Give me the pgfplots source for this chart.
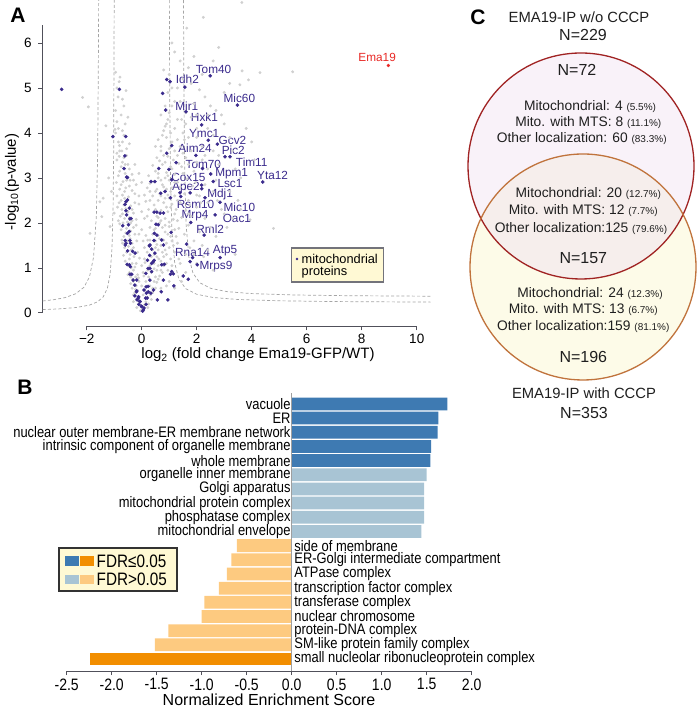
\documentclass[border=0pt]{standalone}
\usepackage{pgfplots}
\pgfplotsset{compat=1.18}
\usepackage{fontspec}
\setmainfont{Liberation Sans}
\newfontfamily\narrow[FakeStretch=0.85]{Liberation Sans}
\newcommand\fs[1]{\fontsize{#1}{#1}\selectfont}

\definecolor{mito}{RGB}{58,42,140}
\definecolor{greypt}{RGB}{208,208,208}
\definecolor{axgray}{RGB}{80,80,90}
\definecolor{dashgray}{RGB}{165,165,165}
\definecolor{emared}{RGB}{232,40,36}
\definecolor{fdrblue}{RGB}{62,122,178}
\definecolor{ltblue}{RGB}{168,196,212}
\definecolor{ltorange}{RGB}{253,202,128}
\definecolor{fdrorange}{RGB}{242,142,0}
\definecolor{legyellow}{RGB}{255,249,212}
\definecolor{vennred}{RGB}{160,35,35}
\definecolor{vennbrown}{RGB}{192,115,60}
\definecolor{vennlav}{RGB}{249,242,249}
\definecolor{venncream}{RGB}{253,251,232}
\definecolor{venninter}{RGB}{246,238,236}

\begin{document}
\begin{tikzpicture}
\useasboundingbox (0pt,0pt) rectangle (700pt,711pt);

% ---------------- A: volcano plot ----------------
\begin{axis}[
  at={(42.7pt,385pt)}, anchor=south west, scale only axis,
  width=387.8pt, height=325.75pt,
  xmin=-3.6, xmax=10.5, ymin=-0.29, ymax=6.95,
  axis line style={draw=none},
  xtick={-2,0,2,4,6,8,10}, xticklabels={−2,0,2,4,6,8,10},
  ytick={0,1,2,3,4,5,6}, yticklabels={0,1,2,3,4,5,6},
  xtick pos=lower, ytick pos=left,
  tick align=outside, major tick length=4.5pt,
  tick style={axgray, line width=0.9pt},
  ticklabel style={font=\fs{13.5}},
  yticklabel style={xshift=-3pt},
  clip=false,
]
\draw[axgray, line width=0.9pt] (axis cs:-2,-0.29) -- (axis cs:10,-0.29);
\draw[axgray, line width=0.9pt] (axis cs:-3.6,0) -- (axis cs:-3.6,6.4);

% threshold curves
\addplot[dashgray, line width=0.7pt, dash pattern=on 3pt off 2.2pt] coordinates {
 (-3.6,0.266) (-3.2,0.294) (-2.8,0.339) (-2.4,0.426) (-2.1,0.571) (-1.9,0.799)
 (-1.75,1.241) (-1.65,2.15) (-1.6,3.579) (-1.57,6.15) (-1.5653,6.95)};
\addplot[dashgray, line width=0.7pt, dash pattern=on 3pt off 2.2pt] coordinates {
 (-3.6,0.074) (-3.0,0.090) (-2.4,0.12) (-1.9,0.174) (-1.6,0.249) (-1.4,0.358)
 (-1.25,0.546) (-1.15,0.855) (-1.08,1.44) (-1.04,2.387) (-1.02,3.57) (-1.0005,6.95)};
\addplot[dashgray, line width=0.7pt, dash pattern=on 3pt off 2.2pt] coordinates {
 (1.005,6.95) (1.02,4.66) (1.05,2.887) (1.1,1.82) (1.2,1.109) (1.35,0.753)
 (1.6,0.54) (2.0,0.415) (2.6,0.343) (3.5,0.299) (5,0.27) (7,0.253) (10.5,0.241)};
\addplot[dashgray, line width=0.7pt, dash pattern=on 3pt off 2.2pt] coordinates {
 (1.5203,6.95) (1.535,4.794) (1.565,3.017) (1.615,1.95) (1.715,1.239) (1.865,0.883)
 (2.115,0.67) (2.515,0.545) (3.1,0.474) (4.0,0.43) (5.5,0.40) (7.5,0.383) (10.5,0.372)};

% all other proteins
\addplot[only marks, mark=*, mark size=1.25pt, color=greypt] table {
x y
-0.05 0.05
0.05 0.08
0.0 0.15
-0.12 0.2
0.1 0.18
0.15 0.25
-0.2 0.3
0.2 0.35
-0.08 0.35
0.05 0.4
-0.25 0.45
0.28 0.45
0.12 0.5
-0.15 0.5
0.35 0.3
-0.3 0.25
0.22 0.12
-0.18 0.12
-0.35 0.55
-0.2 0.6
0.0 0.6
0.3 0.6
0.4 0.55
-0.3 0.7
-0.1 0.7
0.15 0.7
0.45 0.7
-0.4 0.8
-0.22 0.8
0.25 0.8
0.5 0.8
0.6 0.75
-0.45 0.9
-0.3 0.95
0.05 0.9
0.35 0.9
0.55 0.95
0.75 0.9
-0.15 0.85
0.9 0.6
1.0 0.7
1.2 0.55
0.7 0.55
-0.5 1.05
-0.35 1.1
-0.2 1.1
0.0 1.05
0.3 1.05
0.45 1.1
0.6 1.05
0.7 1.15
0.9 1.1
-0.45 1.2
-0.28 1.25
0.1 1.2
0.35 1.25
0.55 1.25
0.8 1.25
1.05 1.2
-0.55 1.35
-0.38 1.4
-0.15 1.35
0.2 1.35
0.4 1.4
0.6 1.4
0.85 1.4
1.2 1.35
1.4 1.1
1.6 1.3
-0.62 1.45
0.25 1.5
0.7 1.5
1.0 1.45
-0.7 1.55
-0.5 1.6
-0.35 1.55
-0.18 1.6
0.05 1.6
0.3 1.62
0.5 1.6
0.8 1.62
1.1 1.6
1.3 1.55
-0.65 1.7
-0.45 1.72
-0.25 1.75
0.15 1.72
0.4 1.75
0.6 1.72
0.95 1.75
1.25 1.7
1.55 1.75
1.9 1.6
-0.75 1.85
-0.55 1.88
-0.3 1.9
0.0 1.85
0.3 1.9
0.5 1.88
0.75 1.9
1.0 1.92
1.35 1.88
1.7 1.95
2.1 1.8
2.5 1.9
-0.8 1.98
-0.4 2.0
0.65 2.0
-0.85 2.05
-0.62 2.1
-0.45 2.12
-0.2 2.08
0.1 2.1
0.35 2.05
0.6 2.12
0.85 2.1
1.15 2.08
1.45 2.12
1.8 2.15
2.3 2.1
-0.7 2.2
-0.5 2.25
-0.3 2.22
0.0 2.25
0.25 2.3
0.7 2.28
0.95 2.25
1.25 2.3
1.6 2.28
2.0 2.35
2.9 2.3
-0.88 2.35
-0.65 2.4
-0.4 2.38
-0.1 2.42
0.45 2.4
0.8 2.45
1.1 2.42
1.4 2.45
1.75 2.4
2.4 2.45
3.3 2.1
-0.75 2.5
0.3 2.5
1.0 2.55
-0.9 2.6
-0.7 2.62
-0.48 2.58
-0.25 2.65
0.1 2.62
0.4 2.6
0.65 2.65
0.95 2.62
1.2 2.6
1.55 2.65
2.0 2.62
2.6 2.7
-0.8 2.75
-0.58 2.78
-0.35 2.72
0.2 2.78
0.55 2.75
0.8 2.8
1.1 2.78
1.4 2.8
1.85 2.82
2.3 2.85
-0.92 2.9
-0.68 2.92
-0.42 2.95
0.0 2.9
0.45 2.92
0.7 2.95
1.0 2.95
1.3 2.9
1.65 2.98
2.7 2.95
3.2 2.7
3.5 2.5
-0.85 3.05
-0.6 3.1
-0.35 3.08
0.25 3.05
0.6 3.1
0.9 3.12
1.2 3.08
1.5 3.1
1.9 3.15
2.5 3.1
-0.75 3.25
-0.5 3.3
0.4 3.28
0.75 3.3
1.05 3.25
1.35 3.32
1.7 3.3
2.0 3.35
2.8 3.3
3.4 3.2
-0.9 3.4
-0.65 3.45
0.55 3.45
0.95 3.48
1.3 3.5
1.6 3.45
2.3 3.5
3.6 3.0
4.1 3.4
-0.8 3.6
-0.55 3.65
0.7 3.6
1.0 3.65
1.4 3.7
1.8 3.6
2.2 3.7
-0.85 3.8
0.6 3.85
0.9 3.9
1.3 3.85
1.7 3.9
2.6 3.95
3.2 3.9
-0.95 4.0
-0.7 4.05
0.8 4.05
1.2 4.1
1.5 4.0
2.0 4.1
3.0 4.2
-0.9 4.25
0.95 4.3
1.45 4.3
1.8 4.35
2.4 4.4
3.8 4.1
-1.3 4.16
-0.97 4.08
-0.45 3.76
-0.81 3.72
-0.86 4.8
-0.57 4.94
-0.79 5.24
-0.82 5.14
1.1 4.6
1.4 4.7
1.9 4.65
2.3 4.8
2.7 4.5
3.0 4.9
1.3 5.0
2.1 4.96
3.57 5.07
3.88 5.18
4.3 5.34
3.65 5.38
5.49 5.36
-2.15 4.79
-1.94 4.58
1.0 5.3
1.7 5.45
2.6 5.6
1.64 6.33
2.24 6.57
3.64 6.9
1.2 5.8
-0.3 0.4
-0.22 0.52
-0.4 0.65
-0.33 0.75
-0.5 0.85
-0.38 1.0
-0.6 1.15
-0.42 1.3
-0.66 1.28
-0.48 1.48
-0.72 1.62
-0.58 1.78
-0.4 1.82
-0.68 2.0
-0.52 2.02
-0.78 2.15
-0.58 2.32
-0.35 2.3
-0.82 2.45
-0.55 2.48
-0.62 2.7
-0.45 2.82
-0.75 2.85
-0.55 2.95
-0.8 3.15
-0.7 3.35
-0.55 3.5
-0.9 3.55
-0.7 3.8
-0.6 4.2
-0.75 4.4
-0.65 4.6
-0.2 1.95
-0.1 2.6
-0.2 2.85
-0.25 3.3
-0.1 3.1
0.25 0.2
0.32 0.4
0.4 0.45
0.5 0.55
0.55 0.68
0.65 0.82
0.7 0.95
0.45 0.98
0.8 1.05
0.95 0.95
0.62 1.2
1.1 1.05
0.9 1.3
0.5 1.45
0.75 1.35
1.15 1.5
0.65 1.65
0.9 1.55
1.05 1.7
0.85 1.8
1.2 1.85
0.7 2.05
1.0 2.02
1.3 2.05
0.55 2.15
0.9 2.35
1.2 2.2
0.6 2.5
0.85 2.55
1.3 2.5
0.5 2.7
1.05 2.7
0.75 2.85
1.2 2.9
0.6 3.0
0.95 3.05
0.85 3.35
1.15 3.4
0.7 3.7
1.1 3.8
0.85 4.15
1.0 4.45
1.2 4.7
0.95 4.9
1.6 0.9
2.0 1.1
2.4 1.4
2.7 1.7
3.1 1.9
2.2 1.5
1.9 1.3
3.6 2.3
3.94 2.07
4.79 1.88
3.3 3.6
2.9 4.4
2.5 4.6
4.0 3.8
2.1 2.6
2.4 3.2
2.0 3.9
1.6 4.2
1.8 5.1
2.2 5.3
1.4 5.6
1.1 6.0
-1.88 1.77
-1.45 2.14
-1.15 1.92
-1.0 2.22
-1.4 2.55
-1.52 2.47
-1.2 3.0
-1.1 2.7
-0.28 0.62
-0.12 0.78
0.08 0.82
0.22 0.95
-0.25 1.02
0.12 1.12
-0.08 1.22
0.45 1.3
-0.3 1.45
0.1 1.45
0.55 1.52
-0.42 1.65
0.22 1.62
-0.1 1.75
0.45 1.85
0.85 1.95
-0.35 2.05
0.2 2.15
0.5 2.3
1.05 2.35
-0.72 2.3
-0.25 2.45
0.15 2.48
0.7 2.6
-0.62 2.55
0.3 2.7
0.9 2.75
-0.3 2.95
0.3 2.88
0.85 3.0
-0.45 3.2
0.5 3.15
1.1 3.2
-0.6 3.3
0.65 3.38
1.45 3.25
-0.82 3.48
0.8 3.5
1.2 3.6
-0.72 3.6
0.5 3.7
1.5 3.55
-0.65 3.95
0.75 3.95
1.05 4.0
-0.85 4.1
0.9 4.2
1.3 4.3
-0.5 4.35
0.7 4.4
1.6 4.45
-0.95 4.5
0.85 4.6
-0.7 4.75
1.1 5.0
-0.9 5.0
1.5 5.2
0.8 5.4
-0.95 5.35
1.9 5.7
2.8 5.9
3.2 5.1
1.7 2.5
1.95 2.9
2.2 3.4
2.6 3.6
1.55 3.85
2.0 4.4
2.4 4.1
2.8 3.5
3.0 2.2
2.75 2.5
1.35 1.2
1.75 1.45
2.25 1.25
1.45 0.7
2.6 0.95
3.4 1.3
1.7 2.2
2.15 2.45
};

% mitochondrial proteins
\addplot[only marks, mark=*, mark size=1.6pt, color=mito] table {
x y
2.49 5.27
1.57 5.02
3.48 4.62
1.61 4.47
2.18 4.18
2.42 3.84
2.75 3.75
1.97 3.50
3.03 3.47
3.21 3.47
2.21 3.21
2.51 3.09
4.40 2.91
2.18 2.84
2.60 2.92
1.76 2.67
2.30 2.56
1.42 2.59
2.85 2.46
1.78 2.01
2.67 2.18
2.27 1.73
1.63 1.53
2.85 1.23
2.02 1.07
1.85 1.23
1.76 1.14
1.51 0.82
1.69 0.75
1.17 0.60
0.91 5.19
1.03 5.14
0.76 4.88
0.87 4.51
1.09 3.72
0.91 3.55
1.25 3.34
0.99 3.19
0.62 3.21
0.34 2.92
1.09 2.96
0.85 2.70
0.69 2.66
1.05 2.56
1.39 2.67
0.45 2.24
0.55 2.24
0.79 2.22
1.07 1.79
0.52 1.97
0.46 1.77
0.45 1.61
0.73 1.62
0.79 1.51
0.28 1.49
0.36 1.42
0.82 1.08
1.09 0.92
1.15 0.87
1.05 0.86
0.71 0.47
0.57 0.29
0.95 0.29
2.18 2.76
0.67 2.22
0.79 0.73
0.73 1.07
0.48 2.92
0.55 1.73
0.60 1.96
0.30 1.51
0.48 1.33
0.42 1.14
0.36 0.92
0.30 0.99
0.30 0.73
0.24 0.47
0.16 0.58
0.20 0.33
0.16 0.19
0.06 0.07
0.03 0.04
0.08 0.11
0.14 0.33
0.17 0.44
0.23 0.59
0.15 0.88
0.23 0.99
0.36 1.10
0.21 1.17
0.45 1.17
0.29 1.28
0.08 0.51
0.33 0.44
0.43 0.51
-2.91 4.97
-0.81 4.97
-1.05 3.92
-0.58 3.92
-0.61 3.49
-0.64 3.21
-0.52 3.01
-0.57 2.47
-0.61 2.41
-0.57 2.27
-0.43 2.09
-0.69 1.94
-0.52 1.77
-0.60 1.61
-0.43 1.61
-0.60 1.51
-0.51 1.38
-0.33 1.37
-0.53 1.08
-0.41 1.03
-0.43 0.86
-0.31 0.73
-0.25 0.62
-0.19 0.47
-0.25 0.38
-0.13 0.33
-0.07 0.26
-0.01 0.15
-0.10 0.19
-0.17 0.29
-0.52 2.51
-0.45 2.33
-0.55 2.18
-0.39 2.10
-0.48 1.96
-0.45 1.81
-0.57 1.55
-0.41 1.55
-0.24 1.33
-0.45 1.07
-0.36 0.86
-0.18 0.73
-0.18 0.49
-0.12 0.36
-0.06 0.25
0.00 0.14
-0.55 3.02
};

% bait
\addplot[only marks, mark=*, mark size=1.5pt, color=emared] coordinates {(8.97,5.50)};

\begin{scope}[every node/.style={font=\fs{11.8}, text=mito, inner sep=0pt}]
\node at (axis cs:2.61,5.41) {Tom40};
\node at (axis cs:1.66,5.19) {Idh2};
\node at (axis cs:3.55,4.77) {Mic60};
\node at (axis cs:1.64,4.60) {Mir1};
\node at (axis cs:2.28,4.35) {Hxk1};
\node at (axis cs:2.27,3.99) {Ymc1};
\node at (axis cs:3.30,3.84) {Gcv2};
\node at (axis cs:1.94,3.66) {Aim24};
\node at (axis cs:3.33,3.61) {Pic2};
\node at (axis cs:4.00,3.36) {Tim11};
\node at (axis cs:2.24,3.31) {Tom70};
\node at (axis cs:3.27,3.10) {Mpm1};
\node at (axis cs:4.76,3.05) {Yta12};
\node at (axis cs:1.70,3.01) {Cox15};
\node at (axis cs:3.21,2.88) {Lsc1};
\node at (axis cs:1.61,2.79) {Ape2};
\node at (axis cs:2.85,2.64) {Mdj1};
\node at (axis cs:1.96,2.42) {Rsm10};
\node at (axis cs:3.55,2.35) {Mic10};
\node at (axis cs:1.94,2.16) {Mrp4};
\node at (axis cs:3.46,2.11) {Oac1};
\node at (axis cs:2.49,1.86) {Rml2};
\node at (axis cs:1.85,1.35) {Rna14};
\node at (axis cs:3.03,1.39) {Atp5};
\node at (axis cs:2.70,1.03) {Mrps9};
\node[text=emared] at (axis cs:8.56,5.67) {Ema19};
\end{scope}
\end{axis}

% A labels and legend
\node[font=\bfseries\fs{21}] at (18pt,696pt) {A};
\node[font=\fs{15}] at (258pt,356pt) {log\textsubscript{2} (fold change Ema19-GFP/WT)};
\node[font=\fs{15}, rotate=90] at (12pt,529pt) {-log\textsubscript{10}(p-value)};
\draw[fill=legyellow, draw=axgray!80, line width=1.3pt] (291.7pt,463pt) rectangle (383.3pt,429pt);
\fill[mito] (297pt,452pt) circle (1.4pt);
\node[font=\fs{12.8}, anchor=west, inner sep=0pt] at (301.5pt,452pt) {mitochondrial};
\node[font=\fs{12.8}, anchor=west, inner sep=0pt] at (301.5pt,439pt) {proteins};

% ---------------- B: enrichment bars ----------------
\begin{axis}[
  at={(66.7pt,40pt)}, anchor=south west, scale only axis,
  width=405pt, height=278pt,
  xmin=-2.5, xmax=2, ymin=-0.847, ymax=18.77,
  axis x line*=bottom, axis y line=none,
  x axis line style={axgray, line width=0.9pt},
  xtick={-2.5,-2,-1.5,-1,-0.5,0,0.5,1,1.5,2},
  xticklabels={-2.5,-2.0,-1.5,-1.0,-0.5,0.0,0.5,1.0,1.5,2.0},
  ytick=\empty,
  tick align=outside, major tick length=4pt,
  xtick style={axgray, line width=0.9pt},
  xticklabel style={font=\narrow\fs{16.5}},
  clip=false,
]
\addplot[xbar, bar shift=0pt, bar width=0.9, fill=fdrblue, draw=none] coordinates {
 (1.73,18) (1.63,17) (1.62,16) (1.55,15) (1.54,14)};
\addplot[xbar, bar shift=0pt, bar width=0.9, fill=ltblue, draw=none] coordinates {
 (1.50,13) (1.47,12) (1.47,11) (1.47,10) (1.44,9)};
\addplot[xbar, bar shift=0pt, bar width=0.9, fill=ltorange, draw=none] coordinates {
 (-0.61,8) (-0.67,7) (-0.72,6) (-0.81,5) (-0.97,4) (-1.00,3) (-1.37,2) (-1.52,1)};
\addplot[xbar, bar shift=0pt, bar width=0.9, fill=fdrorange, draw=none] coordinates {
 (-2.24,0)};
\draw[gray!75, line width=0.9pt] (axis cs:0,-0.847) -- (axis cs:0,18.77);
\begin{scope}[every node/.style={font=\narrow\fs{15.2}, inner sep=0pt}]
\node[anchor=east] at ([xshift=-1pt]axis cs:0,18) {vacuole};
\node[anchor=east] at ([xshift=-1pt]axis cs:0,17) {ER};
\node[anchor=east] at ([xshift=-1pt]axis cs:0,16) {nuclear outer membrane-ER membrane network};
\node[anchor=east] at ([xshift=-1pt]axis cs:0,15) {intrinsic component of organelle membrane};
\node[anchor=east] at ([xshift=-1pt]axis cs:0,14) {whole membrane};
\node[anchor=east] at ([xshift=-1pt]axis cs:0,13) {organelle inner membrane};
\node[anchor=east] at ([xshift=-1pt]axis cs:0,12) {Golgi apparatus};
\node[anchor=east] at ([xshift=-1pt]axis cs:0,11) {mitochondrial protein complex};
\node[anchor=east] at ([xshift=-1pt]axis cs:0,10) {phosphatase complex};
\node[anchor=east] at ([xshift=-1pt]axis cs:0,9) {mitochondrial envelope};
\node[anchor=west] at ([xshift=2.5pt]axis cs:0,8) {side of membrane};
\node[anchor=west] at ([xshift=2.5pt]axis cs:0,7) {ER-Golgi intermediate compartment};
\node[anchor=west] at ([xshift=2.5pt]axis cs:0,6) {ATPase complex};
\node[anchor=west] at ([xshift=2.5pt]axis cs:0,5) {transcription factor complex};
\node[anchor=west] at ([xshift=2.5pt]axis cs:0,4) {transferase complex};
\node[anchor=west] at ([xshift=2.5pt]axis cs:0,3) {nuclear chromosome};
\node[anchor=west] at ([xshift=2.5pt]axis cs:0,2) {protein-DNA complex};
\node[anchor=west] at ([xshift=2.5pt]axis cs:0,1) {SM-like protein family complex};
\node[anchor=west] at ([xshift=2.5pt]axis cs:0,0) {small nucleolar ribonucleoprotein complex};
\end{scope}
\end{axis}

\node[font=\bfseries\fs{21}] at (25pt,324pt) {B};
\node[font=\fs{16}] at (269pt,11pt) {Normalized Enrichment Score};
\draw[fill=legyellow, draw=black!80, line width=1.2pt] (59pt,163pt) rectangle (177pt,120pt);
\fill[fdrblue] (65pt,145pt) rectangle (79pt,154.5pt);
\fill[fdrorange] (80pt,145pt) rectangle (94pt,154.5pt);
\fill[ltblue] (65pt,126.5pt) rectangle (79pt,136.4pt);
\fill[ltorange] (80pt,126.5pt) rectangle (94pt,136.4pt);
\node[font=\narrow\fs{18}, anchor=west, inner sep=0pt] at (96.5pt,150pt) {FDR≤0.05};
\node[font=\narrow\fs{18}, anchor=west, inner sep=0pt] at (96.5pt,131.5pt) {FDR>0.05};

% ---------------- C: Venn diagram ----------------
\fill[vennlav] (581pt,545pt) circle (113pt);
\fill[venncream] (583pt,444pt) circle (113pt);
\begin{scope}
\clip (581pt,545pt) circle (113pt);
\fill[venninter] (583pt,444pt) circle (113pt);
\end{scope}
\draw[vennred, line width=1.3pt] (581pt,545pt) circle (113pt);
\draw[vennbrown, line width=1.3pt] (583pt,444pt) circle (113pt);

\node[font=\bfseries\fs{21}] at (478pt,694pt) {C};
\begin{scope}[every node/.style={inner sep=0pt, text=black!88}]
\node[font=\fs{14.8}] at (579pt,694pt) {EMA19-IP w/o CCCP};
\node[font=\fs{16}] at (583pt,676pt) {N=229};
\node[font=\fs{16}] at (577pt,641pt) {N=72};
\node[font=\fs{13.8}] at (590pt,604.3pt) {Mitochondrial: 4 {\fs{10}(5.5\%)}};
\node[font=\fs{13.8}] at (588.3pt,588.3pt) {Mito. with MTS: 8 {\fs{10}(11.1\%)}};
\node[font=\fs{13.8}] at (581.7pt,572.7pt) {Other localization: 60 {\fs{10}(83.3\%)}};
\node[font=\fs{13.8}] at (588.3pt,517.7pt) {Mitochondrial: 20 {\fs{10}(12.7\%)}};
\node[font=\fs{13.8}] at (583.3pt,500.3pt) {Mito. with MTS: 12 {\fs{10}(7.7\%)}};
\node[font=\fs{13.8}] at (581pt,482.7pt) {Other localization:125 {\fs{10}(79.6\%)}};
\node[font=\fs{16}] at (583.3pt,452.7pt) {N=157};
\node[font=\fs{13.8}] at (590pt,417.7pt) {Mitochondrial: 24 {\fs{10}(12.3\%)}};
\node[font=\fs{13.8}] at (583.3pt,401pt) {Mito. with MTS: 13 {\fs{10}(6.7\%)}};
\node[font=\fs{13.8}] at (583.3pt,384.3pt) {Other localization:159 {\fs{10}(81.1\%)}};
\node[font=\fs{16}] at (583.3pt,354.3pt) {N=196};
\node[font=\fs{14.8}] at (584pt,318pt) {EMA19-IP with CCCP};
\node[font=\fs{16}] at (584pt,298pt) {N=353};
\end{scope}
\end{tikzpicture}
\end{document}
